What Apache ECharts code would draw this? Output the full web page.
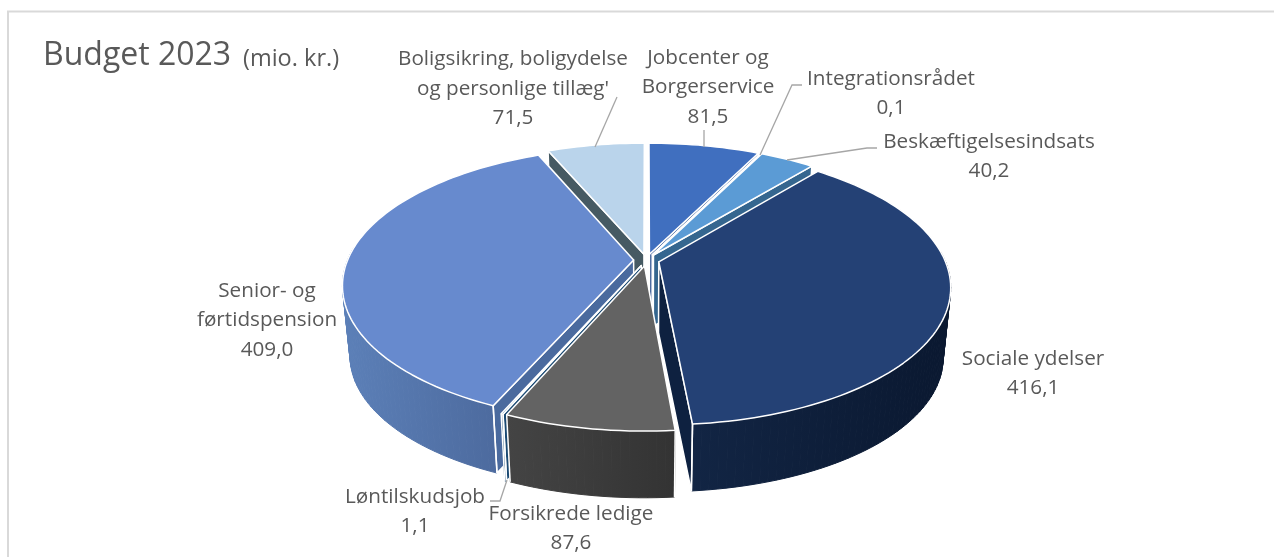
<!DOCTYPE html>
<html><head><meta charset="utf-8">
<style>html,body{margin:0;padding:0;background:#fff}#c{width:1274px;height:557px}</style>
<script src="https://cdn.jsdelivr.net/npm/echarts@6/dist/echarts.min.js"></script>
</head><body><div id="c"></div>
<script>
var titleMain = 'Budget 2023';
var titleUnit = '(mio. kr.)';
var categories = ['Jobcenter og\nBorgerservice','Integrationsrådet','Beskæftigelsesindsats','Sociale ydelser','Forsikrede ledige','Løntilskudsjob','Senior- og\nførtidspension','Boligsikring, boligydelse\nog personlige tillæg\''];
var values = [81.5,0.1,40.2,416.1,87.6,1.1,409.0,71.5];
var valueLabels = ['81,5','0,1','40,2','416,1','87,6','1,1','409,0','71,5'];
var topColors = ['#406fbf','#ffffff','#5b9bd5','#244175','#636363','#255e91','#678ace','#bad4eb'];
var cutColors = ['#2f5391','#ffffff','#35668f','#0e2140','#3b3b3b','#1b4a73','#4a6a9e','#465a63'];
var wallLeft = ['#2f5391','#ffffff','#35668f','#122544','#444444','#1b4a73','#5c80b8','#465a63'];
var wallRight = ['#2f5391','#ffffff','#35668f','#0a1830','#333333','#1b4a73','#4d6b9f','#465a63'];
var paintOrder = [7,0,1,2,3,6,5,4];
var labelCenters = [[708,58],[891,79],[989,142],[1033,359],[571,514],[415,497],[267,291],[513,59.5]];
var leaders = [[[704,147],[704,130]],[[760,155],[792,85],[802,85]],[[787,160],[867,148],[877,148]],[],[],[[507,480],[500,501],[490,501]],[],[[595,147],[617,97]]];

var view = {cx:646.5, cy:260, a:286, b:133, k:0.18, explode:0.045, drop:71, shrink:0.975, lineH:29.5};
var total = values.reduce(function(s,v){return s+v;},0);
var starts = []; (function(){var acc=0;values.forEach(function(v){starts.push(acc/total*360);acc+=v;});})();

function proj(u,v){var s=1/(1+view.k*v);return [view.cx+view.a*u*s, view.cy-view.b*v*s];}
function low(p){return [view.cx+(p[0]-view.cx)*view.shrink, view.cy+(p[1]-view.cy)*view.shrink+view.drop];}
function st(f){return {fill:f,stroke:'#fff',lineWidth:1.5,lineJoin:'round'};}

function renderItem(params,api){
  var idx=api.value(0), val=api.value(1);
  var t0=starts[idx], dt=val/total*360, t1=t0+dt, m=(t0+t1)/2*Math.PI/180;
  var ou=view.explode*Math.sin(m), ov=view.explode*Math.cos(m);
  var n=Math.max(2,Math.ceil(dt/1.5)), arc=[], cosT=[];
  for(var i=0;i<=n;i++){var t=(t0+dt*i/n)*Math.PI/180;arc.push(proj(ou+Math.sin(t),ov+Math.cos(t)));cosT.push(Math.cos(t));}
  var apex=proj(ou,ov);
  var lowArc=arc.map(low), lowApex=low(apex);
  var children=[];
  var xs=[];
  for(i=0;i<=n;i++){if(cosT[i]<0.1)xs.push(arc[i][0]);}
  if(xs.length){
    var x0=Math.min.apply(null,xs), x1=Math.max.apply(null,xs);
    var grad=new echarts.graphic.LinearGradient(x0,0,Math.max(x1,x0+1),0,[{offset:0,color:wallLeft[idx]},{offset:1,color:wallRight[idx]}],true);
    for(i=0;i<n;i++){
      if(cosT[i]<0.1&&cosT[i+1]<0.1){
        children.push({type:'polygon',shape:{points:[arc[i],arc[i+1],lowArc[i+1],lowArc[i]]},style:{fill:grad,stroke:grad,lineWidth:1},silent:true});
      }
    }
  }
  var s0=Math.sin(t0*Math.PI/180), s1=Math.sin(t1*Math.PI/180);
  if(s0<-1e-6)children.push({type:'polygon',shape:{points:[apex,arc[0],lowArc[0],lowApex]},style:st(cutColors[idx]),silent:true});
  if(s1>1e-6)children.push({type:'polygon',shape:{points:[apex,arc[n],lowArc[n],lowApex]},style:st(cutColors[idx]),silent:true});
  if(cosT[0]<0.1)children.push({type:'line',shape:{x1:arc[0][0],y1:arc[0][1],x2:lowArc[0][0],y2:lowArc[0][1]},style:{stroke:'#fff',lineWidth:1.5},silent:true});
  if(cosT[n]<0.1)children.push({type:'line',shape:{x1:arc[n][0],y1:arc[n][1],x2:lowArc[n][0],y2:lowArc[n][1]},style:{stroke:'#fff',lineWidth:1.5},silent:true});
  children.push({type:'polygon',shape:{points:[apex].concat(arc)},style:st(topColors[idx]),silent:true});
  return {type:'group',children:children};
}

var graphic=[
  {type:'polyline',shape:{points:[[8,557],[8,11.5],[1274,11.5]]},style:{stroke:'#d9d9d9',lineWidth:2,fill:null},silent:true},
  {type:'text',x:43,y:40,style:{text:titleMain,fill:'#595959',font:'32px "Open Sans"'},silent:true},
  {type:'text',x:243,y:47,style:{text:titleUnit,fill:'#595959',font:'23.5px "Open Sans"'},silent:true}
];
categories.forEach(function(name,i){
  var lines=name.split('\n').concat([valueLabels[i]]);
  lines.forEach(function(line,j){
    graphic.push({type:'text',x:labelCenters[i][0],y:labelCenters[i][1]+j*view.lineH,silent:true,
      style:{text:line,fill:'#595959',font:'20.7px "Open Sans"',align:'center',verticalAlign:'middle'}});
  });
  if(leaders[i].length){graphic.push({type:'polyline',shape:{points:leaders[i]},style:{stroke:'#a6a6a6',lineWidth:1.3,fill:null},silent:true,z:5});}
});

var chart=echarts.init(document.getElementById('c'),null,{renderer:'canvas'});
chart.setOption({
  animation:false,
  backgroundColor:'#ffffff',
  graphic:graphic,
  series:paintOrder.map(function(i,order){
    return {type:'custom',coordinateSystem:'none',name:categories[i].replace('\n',' '),z:2+order*0.01,renderItem:renderItem,data:[[i,values[i]]],animation:false,silent:true};
  })
});
</script></body></html>
